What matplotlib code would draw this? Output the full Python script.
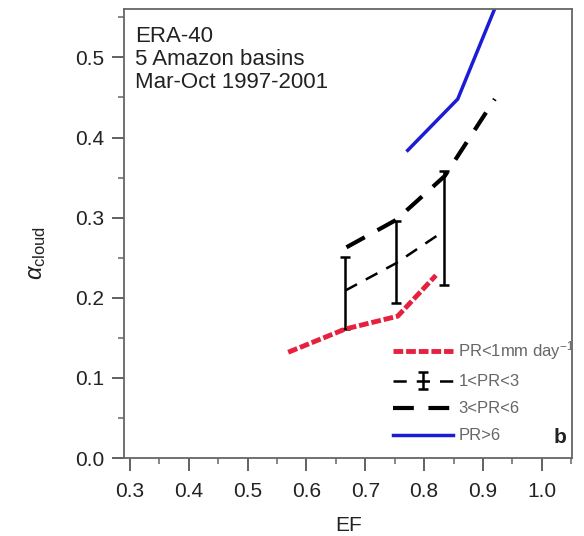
import matplotlib
matplotlib.use("Agg")
import matplotlib.pyplot as plt
import numpy as np

plt.rcParams['font.family'] = ['Liberation Sans', 'DejaVu Sans']
plt.rcParams['mathtext.fontset'] = 'custom'
plt.rcParams['mathtext.rm'] = 'Liberation Sans'
plt.rcParams['mathtext.it'] = 'Liberation Sans:italic'

# PR < 1 mm/day
ef_pr1 = [0.569, 0.666, 0.755, 0.820]
ac_pr1 = [0.132, 0.161, 0.177, 0.228]

# 1 < PR < 3 (mean with range)
ef_pr13 = [0.666, 0.752, 0.833]
ac_pr13 = [0.209, 0.243, 0.283]
lo_pr13 = [0.161, 0.193, 0.216]
hi_pr13 = [0.251, 0.296, 0.358]

# 3 < PR < 6
ef_pr36 = [0.668, 0.752, 0.835, 0.920]
ac_pr36 = [0.263, 0.297, 0.352, 0.448]

# PR > 6
ef_pr6 = [0.772, 0.857, 0.925]
ac_pr6 = [0.384, 0.448, 0.570]

info_lines = ['ERA-40', '5 Amazon basins', 'Mar-Oct 1997-2001']
xtick_vals = [0.3, 0.4, 0.5, 0.6, 0.7, 0.8, 0.9, 1.0]
ytick_vals = [0.0, 0.1, 0.2, 0.3, 0.4, 0.5]

fig = plt.figure(figsize=(5.84, 5.36), dpi=100)
ax = fig.add_axes([0.2123, 0.1455, 0.768, 0.8371])

l1, = ax.plot(ef_pr1, ac_pr1, color='#e6203e', lw=3.5, dashes=(2.0, 0.6),
              label='PR<1mm day$^{-1}$', zorder=3)

yerr = [np.array(ac_pr13) - np.array(lo_pr13), np.array(hi_pr13) - np.array(ac_pr13)]
eb = ax.errorbar(ef_pr13, ac_pr13, yerr=yerr, color='black', lw=1.8, dashes=(5.3, 4),
                 ecolor='black', elinewidth=1.8, capsize=3.6, capthick=1.8,
                 label='1<PR<3', zorder=2)

l3, = ax.plot(ef_pr36, ac_pr36, color='black', lw=3.0, dashes=(5, 3.5),
              label='3<PR<6', zorder=2)

l4, = ax.plot(ef_pr6, ac_pr6, color='#1c1cd6', lw=2.5, label='PR>6', zorder=2)

ax.set_xlim(0.29, 1.052)
ax.set_ylim(0.0, 0.56)
ax.set_xticks(xtick_vals)
ax.set_xticklabels(['%.1f' % v for v in xtick_vals])
ax.set_xticks(np.arange(0.35, 1.06, 0.1), minor=True)
ax.set_yticks(ytick_vals)
ax.set_yticklabels(['%.1f' % v for v in ytick_vals])
ax.set_yticks(np.arange(0.05, 0.56, 0.1), minor=True)

ax.tick_params(which='major', direction='out', length=9, width=1.3, color='#555555',
               labelsize=15, labelcolor='#222222')
ax.tick_params(axis='x', which='major', pad=8)
ax.tick_params(axis='y', which='major', pad=5)
ax.tick_params(which='minor', direction='out', length=4, width=1.1, color='#666666')
for s in ax.spines.values():
    s.set_color('#666666')
    s.set_linewidth(1.3)

ax.set_xlabel('EF', fontsize=15, color='#222222', labelpad=11)
ax.set_ylabel(r'$\alpha_{\mathrm{cloud}}$', fontsize=17, color='#222222')
ax.yaxis.set_label_coords(-0.169, 0.457)

# info text, one line at a time (pixel positions from the top)
for i, line in enumerate(info_lines):
    ax.text(135, 536 - (41.5 + 23.5 * i), line, transform=None, fontsize=16,
            color='#222222', ha='left', va='baseline')

ax.text(0.987, 0.033, 'b', transform=ax.transAxes, ha='right', va='baseline',
        fontsize=15, fontweight='bold', color='#222222')

leg = ax.legend(handles=[l1, eb, l3, l4], loc='upper left', bbox_to_anchor=(0.599, 0.264),
                frameon=False, fontsize=12, handlelength=3.6, handletextpad=0.35,
                labelspacing=0.72, borderaxespad=0, borderpad=0)
for t in leg.get_texts():
    t.set_color('#666666')

fig.savefig('out.png', dpi=100)
